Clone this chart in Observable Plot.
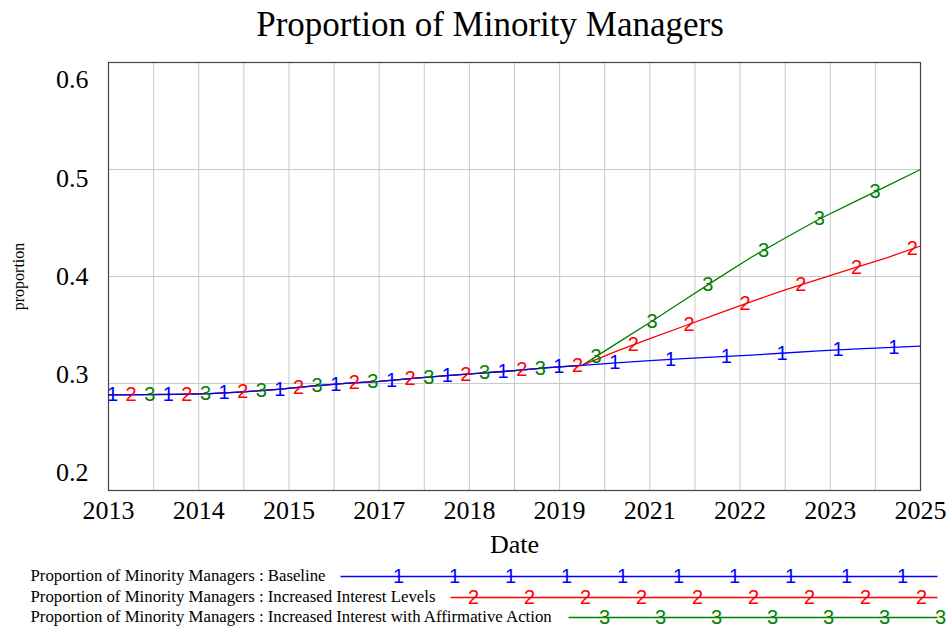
<!DOCTYPE html>
<html>
<head>
<meta charset="utf-8">
<script src="https://cdn.jsdelivr.net/npm/d3@7"></script>
<script src="https://cdn.jsdelivr.net/npm/@observablehq/plot@0.6"></script>
<style>
  html, body { margin: 0; padding: 0; background: #fff; }
  #wrap { width: 948px; }
  #title {
    width: 948px; height: 55px; box-sizing: border-box; padding-left: 32px;
    text-align: center; font-family: "Liberation Serif", serif; font-size: 35px;
    line-height: 50px; color: #000; white-space: nowrap;
  }
  svg { display: block; }
</style>
</head>
<body>
<div id="wrap">
  <div id="title">Proportion of Minority Managers</div>
  <div id="chart"></div>
  <div id="legend"></div>
</div>
<script>
// ---- data ----
const years = [2013, 2013.5, 2014, 2014.5, 2015, 2015.5, 2016, 2016.5, 2017, 2017.5, 2018, 2018.5,
  2019, 2019.5, 2020, 2020.5, 2021, 2021.5, 2022, 2022.5, 2023, 2023.5, 2024, 2024.5, 2025];
const baseline = [0.2894, 0.2896, 0.2898, 0.2905, 0.2922, 0.2945, 0.2975, 0.3002, 0.3019, 0.3047, 0.3074, 0.3097,
  0.3120, 0.3148, 0.3169, 0.3192, 0.3214, 0.3232, 0.3249, 0.3266, 0.3285, 0.3305, 0.3322, 0.3336, 0.3350];
const increasedInterest = [0.2894, 0.2896, 0.2898, 0.2905, 0.2922, 0.2945, 0.2975, 0.3002, 0.3019, 0.3047, 0.3074, 0.3097,
  0.3120, 0.3148, 0.3169, 0.3300, 0.3420, 0.3535, 0.3650, 0.3765, 0.3875, 0.3975, 0.4075, 0.4175, 0.4285];
const affirmativeAction = [0.2894, 0.2896, 0.2898, 0.2905, 0.2922, 0.2945, 0.2975, 0.3002, 0.3019, 0.3047, 0.3074, 0.3097,
  0.3120, 0.3148, 0.3169, 0.3370, 0.3570, 0.3775, 0.3980, 0.4180, 0.4360, 0.4535, 0.4690, 0.4845, 0.5000];
const seriesNames = [
  "Proportion of Minority Managers : Baseline",
  "Proportion of Minority Managers : Increased Interest Levels",
  "Proportion of Minority Managers : Increased Interest with Affirmative Action"
];
const seriesMarkers = ["1", "2", "3"];
const seriesColors = ["#0000ff", "#ff0000", "#008000"];
const yTicks = [0.2, 0.3, 0.4, 0.5, 0.6];
const yGrid = [0.3, 0.4, 0.5];
const xTickLabels = ["2013", "2014", "2015", "2017", "2018", "2019", "2021", "2022", "2023", "2025"];
const xLabel = "Date";
const yLabel = "proportion";

// ---- derived ----
const values = [baseline, increasedInterest, affirmativeAction];
const x0 = 2013, x1 = 2025;
const xTickPos = xTickLabels.map((_, i) => x0 + i * (x1 - x0) / (xTickLabels.length - 1));
const xGrid = d3.range(1, 18).map(i => x0 + i * (x1 - x0) / 18);
const tables = values.map((arr, s) => years.map((t, i) => ({t, v: arr[i], s})));

// marker glyphs placed along each line, cycling through the series
const markerStep = 0.2749, markerStart = 2013.059;
const bis = d3.bisector(d => d).right;
function valueAt(arr, t) {
  let i = Math.min(Math.max(bis(years, t) - 1, 0), years.length - 2);
  const f = (t - years[i]) / (years[i + 1] - years[i]);
  return arr[i] + f * (arr[i + 1] - arr[i]);
}
const markers = [];
for (let k = 0; ; k++) {
  const t = markerStart + k * markerStep;
  if (t > x1 - 0.05) break;
  const s = k % 3;
  markers.push({t, v: valueAt(values[s], t), s});
}

const W = 948;
const chart = Plot.plot({
  width: W, height: 510,
  marginTop: 7, marginLeft: 108, marginRight: 28, marginBottom: 75,
  style: {fontFamily: "Liberation Serif", background: "#fff", color: "#000"},
  x: {domain: [x0, x1], axis: null},
  y: {domain: [0.2, 0.6], axis: null},
  marks: [
    Plot.ruleX(xGrid, {stroke: "#c8c8c8", strokeWidth: 1}),
    Plot.ruleY(yGrid, {stroke: "#c8c8c8", strokeWidth: 1}),
    Plot.frame({stroke: "#444", strokeWidth: 1.2}),
    ...[2, 1, 0].map(s => Plot.line(tables[s], {x: "t", y: "v", stroke: seriesColors[s], strokeWidth: 1.3})),
    Plot.text(markers, {x: "t", y: "v", text: d => seriesMarkers[d.s], fill: d => seriesColors[d.s],
      fontFamily: "Liberation Sans", fontSize: 20}),
    Plot.text(yTicks, {y: d => 0.4 + (d - 0.4) * (98.25 / 107), text: d => d.toFixed(1),
      frameAnchor: "left", textAnchor: "end", dx: -20, fontSize: 26, fill: "#000"}),
    Plot.text(xTickPos.map((p, i) => ({p, label: xTickLabels[i]})), {x: "p", text: "label",
      frameAnchor: "bottom", dy: 28, fontSize: 26, fill: "#000"}),
    Plot.text([xLabel], {frameAnchor: "bottom", dy: 62, fontSize: 26, fill: "#000"}),
    Plot.text([yLabel], {frameAnchor: "left", textAnchor: "middle", dx: -90, rotate: -90, fontSize: 16, fill: "#000"})
  ]
});
document.getElementById("chart").append(chart);

// ---- legend ----
const legendFont = 16.8;
const ctx = document.createElement("canvas").getContext("2d");
ctx.font = `${legendFont}px "Liberation Serif"`;
const rowY = [10, 31, 51];
const textX = 30, lineEnd = 937, legendMarker0 = 398, legendSpacing = 56, legendOffset = 19;
const legendRows = seriesNames.map((name, s) => {
  const w = ctx.measureText(name).width;
  return {name, s, y: rowY[s], start: textX + w + 15};
});
const legendMarks = [];
legendRows.forEach(r => {
  for (let k = -2; k < 20; k++) {
    const x = legendMarker0 + legendOffset * r.s + legendSpacing * k;
    if (x >= r.start + 20 && x <= 940) legendMarks.push({x, y: r.y, s: r.s});
  }
});
const legend = Plot.plot({
  width: W, height: 64, margin: 0,
  style: {fontFamily: "Liberation Serif", background: "#fff", color: "#000"},
  x: {type: "linear", domain: [0, W], range: [0, W], axis: null},
  y: {type: "linear", domain: [0, 64], range: [0, 64], axis: null},
  marks: [
    Plot.text(legendRows, {x: textX, y: "y", text: "name", textAnchor: "start", fontSize: legendFont, fill: "#000"}),
    Plot.link(legendRows, {x1: "start", x2: lineEnd, y1: d => d.y + 1, y2: d => d.y + 1,
      stroke: d => seriesColors[d.s], strokeWidth: 1.5}),
    Plot.text(legendMarks, {x: "x", y: d => d.y + 1, text: d => seriesMarkers[d.s], fill: d => seriesColors[d.s],
      fontFamily: "Liberation Sans", fontSize: 20})
  ]
});
document.getElementById("legend").append(legend);
</script>
</body>
</html>
